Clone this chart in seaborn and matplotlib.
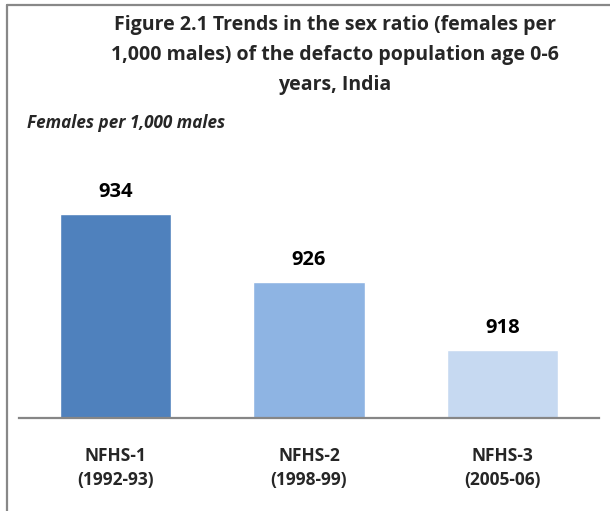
import matplotlib
matplotlib.use('Agg')
import matplotlib.pyplot as plt
from matplotlib.lines import Line2D
import seaborn as sns
import pandas as pd

# data
surveys = ['NFHS-1\n(1992-93)', 'NFHS-2\n(1998-99)', 'NFHS-3\n(2005-06)']
sex_ratio = [934, 926, 918]
bar_colors = ['#4F81BD', '#8EB4E3', '#C6D9F1']

df = pd.DataFrame({'survey': surveys, 'ratio': sex_ratio})

sns.set_style('white')
plt.rcParams['font.family'] = ['Open Sans', 'DejaVu Sans']

W, H = 610, 511
fig = plt.figure(figsize=(W / 100, H / 100), dpi=100)
ax = fig.add_axes([19 / W, 93 / H, 580 / W, 238 / H])

sns.barplot(data=df, x='survey', y='ratio', hue='survey', palette=bar_colors,
            width=0.575, saturation=1, legend=False, ax=ax)
ax.set_ylim(910, 938)

for cont in ax.containers:
    ax.bar_label(cont, fontsize=14.5, fontweight='bold', padding=9, color='black')

ax.set_xlabel('')
ax.set_ylabel('')
ax.set_yticks([])
ax.set_xticks(range(len(surveys)), surveys, fontweight='bold', fontsize=12.5, linespacing=1.45)
ax.tick_params(axis='x', length=0, pad=21)
for side in ['top', 'left', 'right']:
    ax.spines[side].set_visible(False)
ax.spines['bottom'].set_color('#868686')
ax.spines['bottom'].set_linewidth(1.6)

# title and unit note
fig.text(335 / W, 1 - 55 / H,
         'Figure 2.1 Trends in the sex ratio (females per\n'
         '1,000 males) of the defacto population age 0-6\n'
         'years, India',
         ha='center', va='center', fontsize=14, fontweight='bold', linespacing=1.68)
fig.text(27 / W, 1 - 123 / H, 'Females per 1,000 males', ha='left', va='center',
         fontsize=12.3, fontweight='bold', fontstyle='italic')

# outer frame (only top and left edges are visible in the reference)
fig.add_artist(Line2D([6.5 / W, 6.5 / W], [0, 1 - 5.5 / H], color='#888888', lw=1.6))
fig.add_artist(Line2D([6.5 / W, 1], [1 - 5.5 / H, 1 - 5.5 / H], color='#888888', lw=1.6))

fig.savefig('out.png', dpi=100)
